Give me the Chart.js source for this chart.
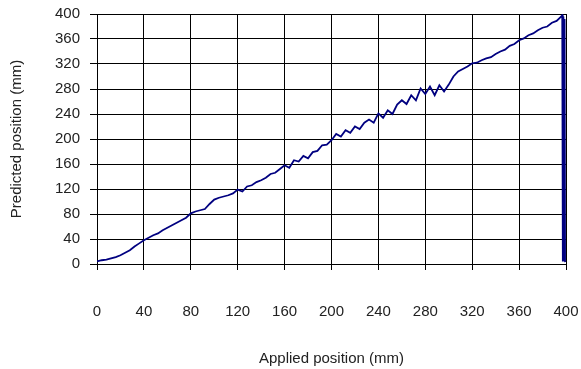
<!DOCTYPE html>
<html>
<head>
<meta charset="utf-8">
<script src="https://cdn.jsdelivr.net/npm/chart.js@4/dist/chart.umd.min.js"></script>
<style>
  body { margin: 0; background: #fff; }
  canvas { display: block; }
</style>
</head>
<body>
<canvas id="positionChart" width="581" height="369"></canvas>
<script>
// applied position (mm), sampled every 4 mm, plus the drop-out at the end of travel
const applied = [
  0, 4, 8, 12, 16, 20, 24, 28, 32, 36,
  40, 44, 48, 52, 56, 60, 64, 68, 72, 76,
  80, 84, 88, 92, 96, 100, 104, 108, 112, 116,
  120, 124, 128, 132, 136, 140, 144, 148, 152, 156,
  160, 164, 168, 172, 176, 180, 184, 188, 192, 196,
  200, 204, 208, 212, 216, 220, 224, 228, 232, 236,
  240, 244, 248, 252, 256, 260, 264, 268, 272, 276,
  280, 284, 288, 292, 296, 300, 304, 308, 312, 316,
  320, 324, 328, 332, 336, 340, 344, 348, 352, 356,
  360, 364, 368, 372, 376, 380, 384, 388, 392, 396,
  396.8, 397.3, 397.8, 398.3, 398.8, 399.2
];
// predicted position (mm)
const predicted = [
  4, 6, 7, 9, 11, 14, 18, 22, 28, 33,
  38, 42, 46, 49, 54, 58, 62, 66, 70, 74,
  81, 84, 86, 88, 96, 103, 106, 108, 110, 113,
  119, 116, 124, 126, 131, 134, 138, 144, 146, 152,
  158, 154, 166, 164, 173, 169, 179, 181, 190, 191,
  198, 208, 204, 214, 210, 220, 216, 226, 231, 226,
  241, 234, 246, 240, 255, 262, 256, 270, 262, 281,
  272, 284, 270, 286, 276, 287, 300, 308, 312, 316,
  321, 322, 326, 329, 331, 336, 340, 343, 349, 352,
  358, 361, 366, 369, 374, 378, 380, 386, 389, 396,
  398, 4, 396, 6, 392, 3
];
const tickStep = 40;
const axisMin = 0;
const axisMax = 400;
const xTitle = 'Applied position (mm)';
const yTitle = 'Predicted position (mm)';

const points = applied.map((x, i) => ({ x: x, y: predicted[i] }));
const font = { family: 'Liberation Sans, Arial, sans-serif', size: 15 };
const textColor = '#222';

new Chart(document.getElementById('positionChart'), {
  type: 'scatter',
  data: {
    datasets: [{
      data: points,
      showLine: true,
      borderColor: '#000080',
      borderWidth: 1.8,
      pointRadius: 0,
      tension: 0
    }]
  },
  options: {
    responsive: false,
    animation: false,
    layout: { padding: { left: 8, right: 15, top: 14, bottom: 1 } },
    plugins: { legend: { display: false }, tooltip: { enabled: false } },
    scales: {
      x: {
        type: 'linear',
        min: axisMin,
        max: axisMax,
        ticks: { stepSize: tickStep, padding: 33, color: textColor, font: font, maxRotation: 0 },
        grid: { color: '#000', lineWidth: 1, tickLength: 6 },
        border: { color: '#000', width: 1 },
        title: { display: true, text: xTitle, color: textColor, font: font, padding: 0 },
        afterFit: (scale) => {
          scale.height = 104;
          scale.paddingLeft = 0;
          scale.paddingRight = 0;
        }
      },
      y: {
        type: 'linear',
        min: axisMin,
        max: axisMax,
        ticks: { stepSize: tickStep, padding: 10, color: textColor, font: font },
        grid: { color: '#000', lineWidth: 1, tickLength: 7 },
        border: { color: '#000', width: 1 },
        title: { display: true, text: yTitle, color: textColor, font: font, padding: 0 },
        afterFit: (scale) => {
          scale.width = 89;
          scale.paddingTop = 0;
          scale.paddingBottom = 0;
        }
      }
    }
  }
});
</script>
</body>
</html>
